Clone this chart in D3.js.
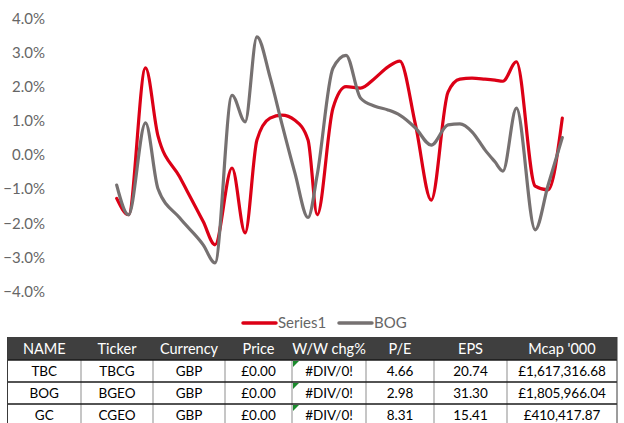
<!DOCTYPE html>
<head>
    <meta charset="utf-8">
    <title>Series1 vs BOG</title>
    <style>
      body { margin: 0; background: #fff; }
    </style>
</head>

<script src="https://d3js.org/d3.v7.min.js"></script>

<div id="my_dataviz"></div>

<script>

    // day offsets of the observations (uneven, trading days)
    var days = [0, 0.9, 2.2, 3.15, 4.8, 6.6, 7.5, 8.8, 9.8, 10.7, 11.7, 12.6, 13.6, 14.6, 15.3,
                16.5, 17.5, 18.6, 19.7, 20.7, 21.6, 22.8, 24.0, 25.28, 26.19, 27.11, 28.1, 28.86,
                29.47, 30.5, 31.93, 32.92, 34.0];

    // weekly change, %
    var series1 = [-1.27, -1.75, 2.55, 0.56, -0.64, -1.95, -2.63, -0.38, -2.28, 0.44, 1.08, 1.17,
                   1.02, 0.44, -1.75, 1.37, 2.0, 1.96, 2.25, 2.58, 2.75, 0.88, -1.32, 1.84, 2.22,
                   2.25, 2.22, 2.19, 2.16, 2.73, -0.91, -1.02, 1.08];
    var bog = [-0.88, -1.75, 0.94, -0.99, -1.84, -2.63, -3.16, 1.75, 0.97, 3.46, 2.28, 0.92,
               -0.53, -1.83, -0.58, 2.54, 2.92, 1.67, 1.43, 1.32, 1.17, 0.79, 0.29, 0.88, 0.91,
               0.68, 0.15, -0.2, -0.47, 1.37, -2.19, -0.88, 0.51];

    var yTicks = [4, 3, 2, 1, 0, -1, -2, -3, -4];
    var seriesNames = ["Series1", "BOG"];
    var seriesColors = ["#DC0016", "#767171"];

    // table contents
    var headers = ["NAME", "Ticker", "Currency", "Price", "W/W chg%", "P/E", "EPS", "Mcap '000"];
    var names = ["TBC", "BOG", "GC"];
    var tickers = ["TBCG", "BGEO", "CGEO"];
    var currencies = ["GBP", "GBP", "GBP"];
    var prices = ["£0.00", "£0.00", "£0.00"];
    var wowChg = ["#DIV/0!", "#DIV/0!", "#DIV/0!"];
    var peRatios = ["4.66", "2.98", "8.31"];
    var eps = ["20.74", "31.30", "15.41"];
    var mcaps = ["£1,617,316.68", "£1,805,966.04", "£410,417.87"];

    var W = 624, H = 423;

    var svg = d3.select("#my_dataviz")
      .append("svg")
      .attr("width", W)
      .attr("height", H)
      .style("display", "block");

    // scales
    var x = d3.scaleLinear()
      .domain([0, 34])
      .range([116.7, 562.3]);

    var y = d3.scaleLinear()
      .domain([-4, 4])
      .range([291.6, 18.4]);

    // y labels, no axis line
    svg.append("g")
      .selectAll("text")
      .data(yTicks)
      .enter()
      .append("text")
        .attr("x", 45)
        .attr("y", function(d) { return y(d); })
        .attr("dy", "0.35em")
        .attr("text-anchor", "end")
        .style("font-family", "Lato, 'Noto Sans', sans-serif")
        .style("font-size", "15px")
        .style("fill", "#666666")
        .text(function(d) { return d3.format(".1f")(d) + "%"; });

    // smooth lines
    var line = d3.line()
      .x(function(d) { return x(d[0]); })
      .y(function(d) { return y(d[1]); })
      .curve(d3.curveMonotoneX);

    [series1, bog].forEach(function(vals, i) {
      var pts = days.map(function(d, j) { return [d, vals[j]]; });
      svg.append("path")
        .datum(pts)
        .attr("fill", "none")
        .attr("stroke", seriesColors[i])
        .attr("stroke-width", 3.2)
        .attr("stroke-linejoin", "round")
        .attr("stroke-linecap", "round")
        .attr("d", line);
    });

    // legend
    var legend = svg.append("g").attr("transform", "translate(243,323)");
    var legendX = [0, 96];
    seriesNames.forEach(function(name, i) {
      var g = legend.append("g").attr("transform", "translate(" + legendX[i] + ",0)");
      g.append("line")
        .attr("x1", 0).attr("x2", 33)
        .attr("stroke", seriesColors[i])
        .attr("stroke-width", 3.5)
        .attr("stroke-linecap", "round");
      g.append("text")
        .attr("x", 35)
        .attr("dy", "0.35em")
        .style("font-family", "Lato, 'Noto Sans', sans-serif")
        .style("font-size", "15px")
        .style("fill", "#666666")
        .text(name);
    });

    // table below the chart
    var colEdges = [7.5, 81, 153, 225, 292, 366, 434, 507, 617];
    var headTop = 337, headH = 23, rowH = 22;
    var rows = names.map(function(n, i) {
      return [n, tickers[i], currencies[i], prices[i], wowChg[i], peRatios[i], eps[i], mcaps[i]];
    });

    var table = svg.append("g");

    table.append("rect")
      .attr("x", colEdges[0])
      .attr("y", headTop)
      .attr("width", colEdges[8] - colEdges[0])
      .attr("height", headH)
      .attr("fill", "#3F3F3F");

    table.selectAll("text.head")
      .data(headers)
      .enter()
      .append("text")
        .attr("class", "head")
        .attr("x", function(d, i) { return (colEdges[i] + colEdges[i + 1]) / 2; })
        .attr("y", headTop + headH / 2)
        .attr("dy", "0.35em")
        .attr("text-anchor", "middle")
        .style("font-family", "Lato, sans-serif")
        .style("font-size", "14.5px")
        .style("fill", "#ffffff")
        .text(function(d) { return d; });

    rows.forEach(function(r, ri) {
      var top = headTop + headH + rowH * ri;
      var g = table.append("g");

      // light vertical dividers
      colEdges.slice(1, 8).forEach(function(cx) {
        g.append("line")
          .attr("x1", cx).attr("x2", cx)
          .attr("y1", top).attr("y2", top + rowH)
          .attr("stroke", "#C6C6C6")
          .attr("stroke-width", 2);
      });

      // Excel error marker in the W/W cell
      g.append("path")
        .attr("d", d3.line()([[colEdges[4] + 1, top + 1], [colEdges[4] + 7, top + 1], [colEdges[4] + 1, top + 7]]) + "Z")
        .attr("fill", "#1A8A2C");

      g.selectAll("text")
        .data(r)
        .enter()
        .append("text")
          .attr("x", function(d, i) { return (colEdges[i] + colEdges[i + 1]) / 2; })
          .attr("y", top + rowH / 2)
          .attr("dy", "0.35em")
          .attr("text-anchor", "middle")
          .style("font-family", "Lato, sans-serif")
          .style("font-size", "13.5px")
          .style("fill", "#000000")
          .text(function(d) { return d; });
    });

    // dark row separators and outer borders
    [0, 1, 2, 3].forEach(function(k) {
      var yy = headTop + headH + rowH * k;
      table.append("line")
        .attr("x1", colEdges[0]).attr("x2", colEdges[8])
        .attr("y1", yy).attr("y2", yy)
        .attr("stroke", "#1a1a1a")
        .attr("stroke-width", 1.5);
    });
    [colEdges[0], colEdges[8]].forEach(function(cx) {
      table.append("line")
        .attr("x1", cx).attr("x2", cx)
        .attr("y1", headTop).attr("y2", H)
        .attr("stroke", "#3a3a3a")
        .attr("stroke-width", 1);
    });

</script>
